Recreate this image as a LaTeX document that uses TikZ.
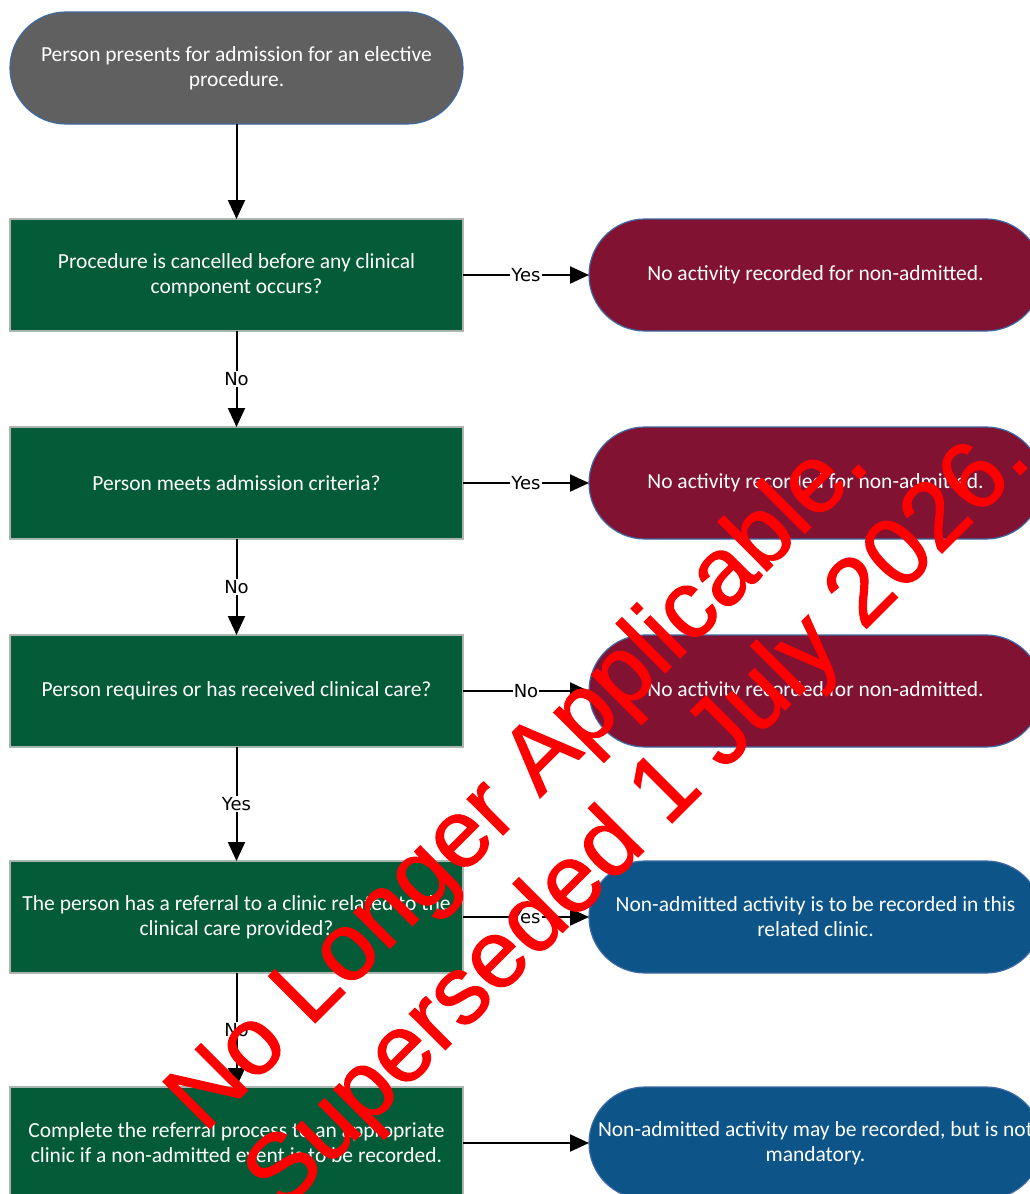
\documentclass[tikz,border=0pt]{standalone}
\usepackage{fontspec}
\setmainfont{Carlito}
\newfontfamily\lblfont{DejaVu Sans}
\newfontfamily\wmfont[FakeBold=1.2]{Liberation Sans}
\usetikzlibrary{arrows.meta}
\definecolor{termgray}{HTML}{606060}
\definecolor{termedge}{HTML}{3D68A3}
\definecolor{dgreen}{HTML}{035B38}
\definecolor{dedge}{HTML}{AAB6B0}
\definecolor{maroon}{HTML}{821232}
\definecolor{nablue}{HTML}{0D5589}
\begin{document}
\begin{tikzpicture}[x=1pt,y=-1pt,
  base/.style={rectangle,minimum width=453pt,minimum height=112pt,inner sep=0pt,outer sep=0pt,
    align=center,text=white,font=\fontsize{21.5}{25}\selectfont},
  term/.style={base,rounded corners=56pt,draw=termedge,line width=1.2pt},
  decision/.style={base,fill=dgreen,draw=dedge,line width=1.2pt},
  conn/.style={line width=2pt,-{Triangle[length=19pt,width=17pt]}},
  lbl/.style={fill=white,inner sep=1pt,text=black,font=\lblfont\fontsize{18}{20}\selectfont},
  wm/.style={anchor=base west,rotate=45,inner sep=0pt,text=red,font=\wmfont\fontsize{96}{116}\selectfont}
]
\useasboundingbox (0,0) rectangle (1030,1194);
\clip (0,0) rectangle (1030,1194);
\fill[white] (0,0) rectangle (1030,1194);

\node[term,fill=termgray] (top) at (236.5,68) {Person presents for admission for an elective\\procedure.};

\node[decision] (d1) at (236.5,275) {Procedure is cancelled before any clinical\\component occurs?};
\node[decision] (d2) at (236.5,483) {Person meets admission criteria?};
\node[decision] (d3) at (236.5,691) {Person requires or has received clinical care?};
\node[decision] (d4) at (236.5,917) {The person has a referral to a clinic related to the\\clinical care provided?};
\node[decision] (d5) at (236.5,1143) {Complete the referral process to an appropriate\\clinic if a non-admitted event is to be recorded.};

\node[term,fill=maroon] (r1) at (815.5,275) {No activity recorded for non-admitted.};
\node[term,fill=maroon] (r2) at (815.5,483) {No activity recorded for non-admitted.};
\node[term,fill=maroon] (r3) at (815.5,691) {No activity recorded for non-admitted.};
\node[term,fill=nablue] (r4) at (815.5,917) {Non-admitted activity is to be recorded in this\\related clinic.};
\node[term,fill=nablue] (r5) at (815.5,1143) {Non-admitted activity may be recorded, but is not\\mandatory.};

\draw[conn] (top) -- (d1);
\draw[conn] (d1) -- node[lbl]{No} (d2);
\draw[conn] (d2) -- node[lbl]{No} (d3);
\draw[conn] (d3) -- node[lbl]{Yes} (d4);
\draw[conn] (d4) -- node[lbl]{No} (d5);
\draw[conn] (d1) -- node[lbl]{Yes} (r1);
\draw[conn] (d2) -- node[lbl]{Yes} (r2);
\draw[conn] (d3) -- node[lbl]{No} (r3);
\draw[conn] (d4) -- node[lbl]{Yes} (r4);
\draw[conn] (d5) -- (r5);

\node[wm] (wm1) at (204,1134) {No Longer Applicable.};
\node[wm] (wm2) at (282,1213) {Superseded 1 July 2026.};
\end{tikzpicture}
\end{document}
